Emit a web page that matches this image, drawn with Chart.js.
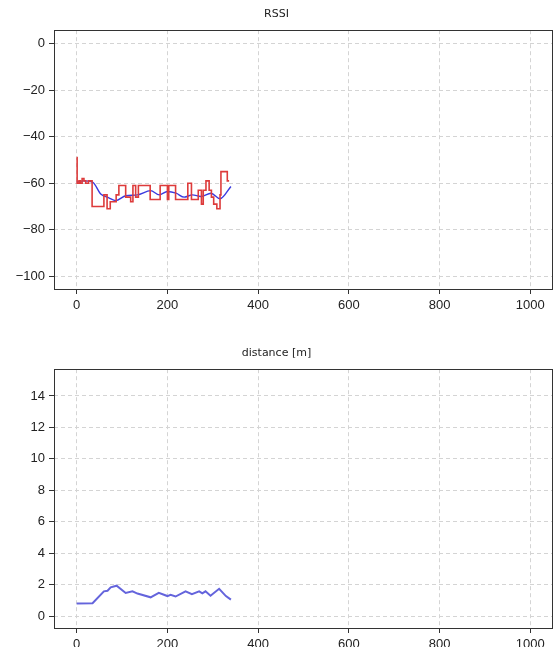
<!DOCTYPE html>
<html>
<head>
<meta charset="utf-8">
<script src="https://cdn.jsdelivr.net/npm/chart.js@4/dist/chart.umd.min.js"></script>
<style>
  html, body { margin: 0; padding: 0; background: #fff; }
  .box { position: absolute; left: 0; width: 554px; }
</style>
</head>
<body>
<div class="box" style="top:0;height:320px"><canvas id="rssiChart"></canvas></div>
<div class="box" style="top:320px;height:327px"><canvas id="distChart"></canvas></div>
<script>
// raw RSSI (step line, value held until next x)
const rssiRawX = [0, 1, 5, 8, 12, 16, 20, 26, 34, 60, 67, 74, 87, 93, 108, 119, 124, 130, 136, 162, 184, 200, 203, 218, 245, 253, 268, 275, 279, 285, 292, 297, 302, 309, 316, 318, 332, 336];
const rssiRawY = [-49, -60, -59, -60, -58, -59, -60, -59, -70, -65, -71, -68, -65, -61, -66, -68, -61, -66, -61, -67, -61, -67, -61, -67, -60, -67, -63, -69, -63, -59, -63, -66, -69, -71, -65, -55, -59, -59];
// smoothed RSSI
const rssiAvgX = [0, 15, 35, 53, 71, 86, 108, 134, 163, 182, 200, 219, 237, 255, 274, 296, 316, 340];
const rssiAvgY = [-59.5, -59, -59.5, -64.6, -66.3, -67.5, -65.4, -65, -63.2, -65, -63.6, -64.3, -66, -65, -65.7, -64.3, -66.7, -61.4];
// distance [m]
const distX = [0, 35, 60, 68, 75, 88, 108, 123, 134, 163, 181, 200, 207, 218, 240, 254, 270, 277, 284, 295, 314, 329, 340];
const distY = [0.80, 0.82, 1.58, 1.62, 1.83, 1.94, 1.48, 1.58, 1.44, 1.2, 1.48, 1.28, 1.36, 1.25, 1.58, 1.4, 1.58, 1.45, 1.58, 1.3, 1.74, 1.28, 1.05];

const xTicks = [0, 200, 400, 600, 800, 1000];
const rssiTicks = [0, -20, -40, -60, -80, -100];
const distTicks = [0, 2, 4, 6, 8, 10, 12, 14];

const pts = (xs, ys) => xs.map((x, i) => ({ x: x, y: ys[i] }));

const frame = {
  id: 'frame',
  afterDraw(chart) {
    const a = chart.chartArea, c = chart.ctx;
    c.save();
    c.strokeStyle = '#333';
    c.lineWidth = 1;
    c.strokeRect(Math.round(a.left) + 0.5, Math.round(a.top) + 0.5, Math.round(a.right - a.left) - 1, Math.round(a.bottom - a.top));
    c.restore();
  }
};

function axis(min, max, tickVals, extra) {
  return Object.assign({
    type: 'linear',
    min: min,
    max: max,
    afterBuildTicks: s => { s.ticks = tickVals.map(v => ({ value: v })); },
    grid: { color: '#d4d4d4', tickColor: '#333', tickLength: 5, tickBorderDash: [] },
    border: { display: false, dash: [4, 3] },
    ticks: {
      color: '#222',
      padding: 4,
      font: { family: 'Liberation Sans', size: 13 },
      callback: v => String(v).replace('-', '\u2212')
    }
  }, extra);
}

function makeChart(id, title, titlePad, datasets, yMin, yMax, yTicks, xHeight) {
  return new Chart(document.getElementById(id), {
    type: 'line',
    data: { datasets: datasets },
    options: {
      responsive: true,
      maintainAspectRatio: false,
      animation: false,
      layout: { padding: { left: 0, right: 1, top: 0, bottom: 0 } },
      elements: { point: { radius: 0 } },
      plugins: {
        legend: { display: false },
        tooltip: { enabled: false },
        title: {
          display: true,
          text: title,
          color: '#222',
          font: { family: 'DejaVu Sans', size: 11, weight: 'normal' },
          padding: titlePad
        }
      },
      scales: {
        x: axis(-50, 1050, xTicks, { afterFit: s => { s.height = xHeight; } }),
        y: axis(yMin, yMax, yTicks, { afterFit: s => { s.width = 54; } })
      }
    },
    plugins: [frame]
  });
}

makeChart('rssiChart', 'RSSI', { top: 8, bottom: 9 }, [
  {
    data: pts(rssiRawX, rssiRawY),
    borderColor: '#dd3b3b',
    borderWidth: 1.6,
    stepped: 'before'
  },
  {
    data: pts(rssiAvgX, rssiAvgY),
    borderColor: '#3a3ae0',
    borderWidth: 1.4,
    cubicInterpolationMode: 'monotone'
  }
], -105.5, 5.8, rssiTicks, 31);

makeChart('distChart', 'distance [m]', { top: 27, bottom: 9 }, [
  {
    data: pts(distX, distY),
    borderColor: '#6464dc',
    borderWidth: 2,
    tension: 0
  }
], -0.75, 15.7, distTicks, 19);
</script>
</body>
</html>
